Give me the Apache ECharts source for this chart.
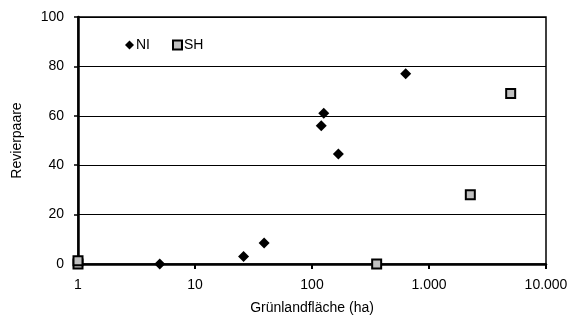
<!DOCTYPE html>
<html><head><meta charset="utf-8">
<script src="https://cdn.jsdelivr.net/npm/echarts@6/dist/echarts.min.js"></script>
<style>html,body{margin:0;padding:0;background:#fff}#c{width:583px;height:322px}</style>
</head><body><div id="c"></div>
<script>
const niX = [5, 26, 39, 120, 126, 168, 632];
const niY = [0, 3, 8.5, 56, 61, 44.5, 77];
const shX = [1, 1, 357, 2255, 4990];
const shY = [0, 1.3, 0, 28, 69];
const xTicks = [1, 10, 100, 1000, 10000];
const yTicks = [0, 20, 40, 60, 80, 100];

const font = 'Liberation Sans, Arial, Helvetica, sans-serif';
const chart = echarts.init(document.getElementById('c'), null, {renderer: 'canvas'});
const fmtX = v => {
  const r = Math.round(v);
  return r.toString().replace(/\B(?=(\d{3})+(?!\d))/g, '.');
};
chart.setOption({
  animation: false,
  backgroundColor: '#fff',
  grid: {left: 78, right: 37, top: 17, bottom: 58, show: true, borderColor: '#000', borderWidth: 1.5, backgroundColor: 'transparent'},
  legend: {
    left: 120, top: 33, itemGap: 22, itemWidth: 9, itemHeight: 9,
    textStyle: {fontFamily: font, fontSize: 14, color: '#000', padding: [0,0,0,-3]},
    data: [{name: 'NI', icon: 'diamond', itemStyle: {color: '#000', opacity: 1}}, {name: 'SH', icon: 'rect', itemStyle: {color: '#c0c0c0', borderColor: '#000', borderWidth: 2, opacity: 1}}]
  },
  xAxis: {
    type: 'log', logBase: 10, min: xTicks[0], max: xTicks[xTicks.length - 1],
    name: 'Grünlandfläche (ha)', nameLocation: 'middle', nameGap: 37,
    nameTextStyle: {fontFamily: font, fontSize: 14, color: '#000'},
    axisLine: {show: true, onZero: false, lineStyle: {color: '#000', width: 2.5}},
    axisTick: {show: true, length: 5, lineStyle: {color: '#000', width: 2}},
    axisLabel: {fontFamily: font, fontSize: 14, color: '#000', margin: 14, formatter: fmtX},
    splitLine: {show: false}, minorTick: {show: false}
  },
  yAxis: {
    type: 'value', min: 0, max: 100, interval: 20,
    name: 'Revierpaare', nameLocation: 'middle', nameGap: 54, nameRotate: 90,
    nameTextStyle: {fontFamily: font, fontSize: 14, color: '#000'},
    axisLine: {show: true, lineStyle: {color: '#000', width: 2.5}},
    axisTick: {show: true, length: 4, lineStyle: {color: '#000', width: 1.5}},
    axisLabel: {fontFamily: font, fontSize: 14, color: '#000', margin: 14},
    splitLine: {show: true, lineStyle: {color: '#000', width: 1}}
  },
  series: [
    {name: 'NI', type: 'scatter', symbol: 'diamond', symbolSize: 11, z: 3,
     itemStyle: {color: '#000', opacity: 1}, data: niX.map((x, i) => [x, niY[i]])},
    {name: 'SH', type: 'scatter', symbol: 'rect', symbolSize: 9, z: 4,
     itemStyle: {color: '#c0c0c0', borderColor: '#000', borderWidth: 2, opacity: 1}, data: shX.map((x, i) => [x, shY[i]])}
  ]
});
</script></body></html>
